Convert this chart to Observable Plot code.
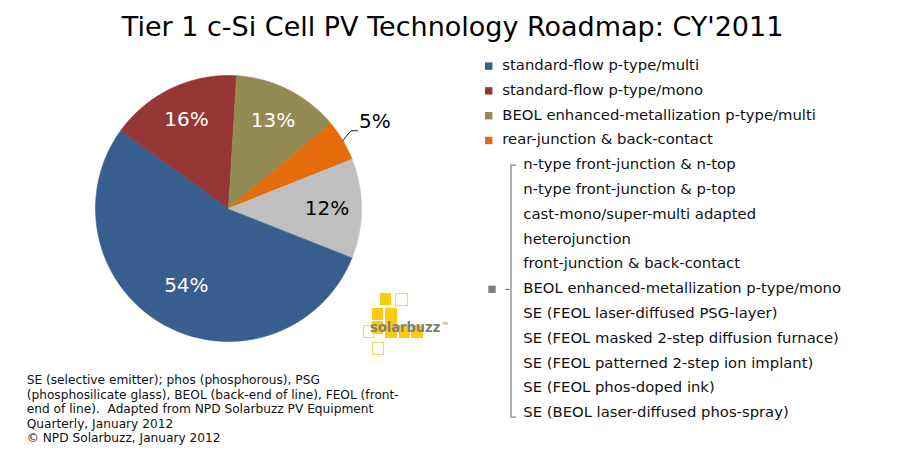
<!DOCTYPE html>
<html>
<head>
<meta charset="utf-8">
<script src="https://cdn.jsdelivr.net/npm/d3@7"></script>
<script src="https://cdn.jsdelivr.net/npm/@observablehq/plot@0.6"></script>
<style>
  html, body { margin: 0; padding: 0; background: #fff; }
  #page { position: relative; width: 921px; height: 460px; overflow: hidden; background: #fff; }
  #pie { position: absolute; left: 8px; top: 37.5px; }
  #overlay { position: absolute; left: 0; top: 0; }
</style>
</head>
<body>
<div id="page"><div id="pie"></div><svg id="overlay" width="921" height="460"></svg></div>
<script>
// ---------------- data ----------------
const title = "Tier 1 c-Si Cell PV Technology Roadmap: CY'2011";
const categories = [
  "standard-flow p-type/multi",
  "standard-flow p-type/mono",
  "BEOL enhanced-metallization p-type/multi",
  "rear-junction & back-contact",
  "other technologies"
];
const shares = [54, 16, 13, 5, 12];
const colors = ["#385E8F", "#953735", "#948A54", "#E46C0A", "#BFBFBF"];
const otherTechnologies = [
  "n-type front-junction & n-top",
  "n-type front-junction & p-top",
  "cast-mono/super-multi adapted",
  "heterojunction",
  "front-junction & back-contact",
  "BEOL enhanced-metallization p-type/mono",
  "SE (FEOL laser-diffused PSG-layer)",
  "SE (FEOL masked 2-step diffusion furnace)",
  "SE (FEOL patterned 2-step ion implant)",
  "SE (FEOL phos-doped ink)",
  "SE (BEOL laser-diffused phos-spray)"
];
const notes = [
  "SE (selective emitter); phos (phosphorous), PSG",
  "(phosphosilicate glass), BEOL (back-end of line), FEOL (front-",
  "end of line).  Adapted from NPD Solarbuzz PV Equipment",
  "Quarterly, January 2012",
  "\u00A9 NPD Solarbuzz, January 2012"
];
const groupKey = categories[4];

// ---------------- pie (Observable Plot) ----------------
const FONT = "'DejaVu Sans', Verdana, sans-serif";
const R = 133, W = 440, H = 340, CX = 220, CY = 170;
const rotation = 111.5 * Math.PI / 180;

const slices = d3.pie()
  .sort(null)
  .value(d => d.share)
  .startAngle(rotation)
  .endAngle(rotation + 2 * Math.PI)(categories.map((c, i) => ({category: c, share: shares[i]})));

const polar = (r, a) => ({x: r * Math.sin(a), y: r * Math.cos(a)});

const polys = slices.flatMap(s => {
  const n = Math.max(2, Math.ceil((s.endAngle - s.startAngle) / (Math.PI / 360)));
  const pts = [{key: s.data.category, x: 0, y: 0}];
  for (let k = 0; k <= n; k++) {
    const a = s.startAngle + (s.endAngle - s.startAngle) * k / n;
    pts.push({key: s.data.category, ...polar(1, a)});
  }
  return pts;
});

const labels = slices.map(s => {
  const mid = (s.startAngle + s.endAngle) / 2;
  const outside = s.data.share < 8;
  const r = outside ? 1.28 : s.data.share >= 50 ? 0.66 : 0.74;
  return {text: s.data.share + "%", ...polar(r, mid), light: !outside && s.data.category !== groupKey};
});

const leaders = slices.filter(s => s.data.share < 8).flatMap(s => {
  const mid = (s.startAngle + s.endAngle) / 2;
  const p0 = polar(1, mid), p1 = polar(1.09, mid - 0.03);
  return [
    {key: s.data.category, ...p0},
    {key: s.data.category, ...p1},
    {key: s.data.category, x: p1.x + 0.05, y: p1.y}
  ];
});

const chart = Plot.plot({
  width: W, height: H, margin: 0,
  style: {fontFamily: FONT, background: "transparent", overflow: "visible"},
  x: {domain: [-CX / R, (W - CX) / R], axis: null},
  y: {domain: [-(H - CY) / R, CY / R], axis: null},
  color: {domain: categories, range: colors},
  marks: [
    Plot.line(polys, {x: "x", y: "y", z: "key", fill: "key", stroke: "key", strokeWidth: 0.6, curve: "linear-closed"}),
    Plot.line(leaders, {x: "x", y: "y", z: "key", stroke: "#000", strokeWidth: 0.9, curve: "linear"}),
    Plot.text(labels.filter(d => d.light), {x: "x", y: "y", text: "text", fill: "white", fontSize: 20}),
    Plot.text(labels.filter(d => !d.light), {x: "x", y: "y", text: "text", fill: "black", fontSize: 20})
  ]
});
document.getElementById("pie").append(chart);

// ---------------- title, legend, notes, logo ----------------
const svg = d3.select("#overlay").style("font-family", FONT);

svg.append("text")
  .attr("x", 452.6).attr("y", 35.7)
  .attr("text-anchor", "middle")
  .attr("font-size", 27)
  .attr("fill", "#000")
  .text(title);

const rowBase = i => 70 + i * 24.8;
const legend = svg.append("g").attr("font-size", 14.8).attr("fill", "#111");
categories.slice(0, 4).forEach((c, i) => {
  legend.append("rect").attr("x", 485).attr("y", rowBase(i) - 7.6).attr("width", 7.4).attr("height", 7.4).attr("fill", colors[i]);
  legend.append("text").attr("x", 502.3).attr("y", rowBase(i)).text(c);
});
otherTechnologies.forEach((t, j) => {
  legend.append("text").attr("x", 523.3).attr("y", rowBase(4 + j)).text(t);
});
const first = rowBase(4) - 4, last = rowBase(4 + otherTechnologies.length - 1);
const midRow = rowBase(4 + (otherTechnologies.length - 1) / 2);
legend.append("path")
  .attr("d", `M516,${first} H511 V${last} H516`)
  .attr("fill", "none").attr("stroke", "#A6A6A6").attr("stroke-width", 1.8);
legend.append("line").attr("x1", 505.3).attr("x2", 509.5).attr("y1", midRow - 3.8).attr("y2", midRow - 3.8)
  .attr("stroke", "#808080").attr("stroke-width", 1.2);
legend.append("rect").attr("x", 488.3).attr("y", midRow - 7.6).attr("width", 7.4).attr("height", 7.4).attr("fill", "#7F7F7F");

const noteG = svg.append("g").attr("font-size", 12.2).attr("fill", "#111");
notes.forEach((n, k) => {
  noteG.append("text").attr("x", 26.7).attr("y", 384.3 + k * 14.5).attr("xml:space", "preserve").style("white-space", "pre").text(n);
});

// solarbuzz logo (decoration)
const logo = svg.append("g");
const filled = [[380, 293, 11, 12], [372, 308, 11, 12], [385, 308, 12, 13], [372, 321, 11, 13], [385, 321, 12, 17], [399, 325, 11, 13], [411, 325, 12, 13]];
const outlined = [[395.5, 293.5, 12, 12], [363.5, 325.5, 10.5, 12], [372.5, 342.5, 11, 12]];
filled.forEach(([x, y, w, h]) => logo.append("rect").attr("x", x).attr("y", y).attr("width", w).attr("height", h).attr("fill", "#FCCB0F"));
outlined.forEach(([x, y, w, h]) => logo.append("rect").attr("x", x).attr("y", y).attr("width", w).attr("height", h).attr("fill", "none").attr("stroke", "#FBD56A").attr("stroke-width", 1.2));
const brand = logo.append("text").attr("x", 370).attr("y", 332)
  .attr("font-family", "'DejaVu Sans Condensed', sans-serif").attr("font-weight", "bold")
  .attr("font-size", 14.5).attr("fill", "#7F7F7F");
brand.append("tspan").text("solarbuzz");
brand.append("tspan").attr("dx", 1.5).attr("dy", -7).attr("font-size", 4.5).attr("font-weight", "normal").text("TM");
</script>
</body>
</html>
